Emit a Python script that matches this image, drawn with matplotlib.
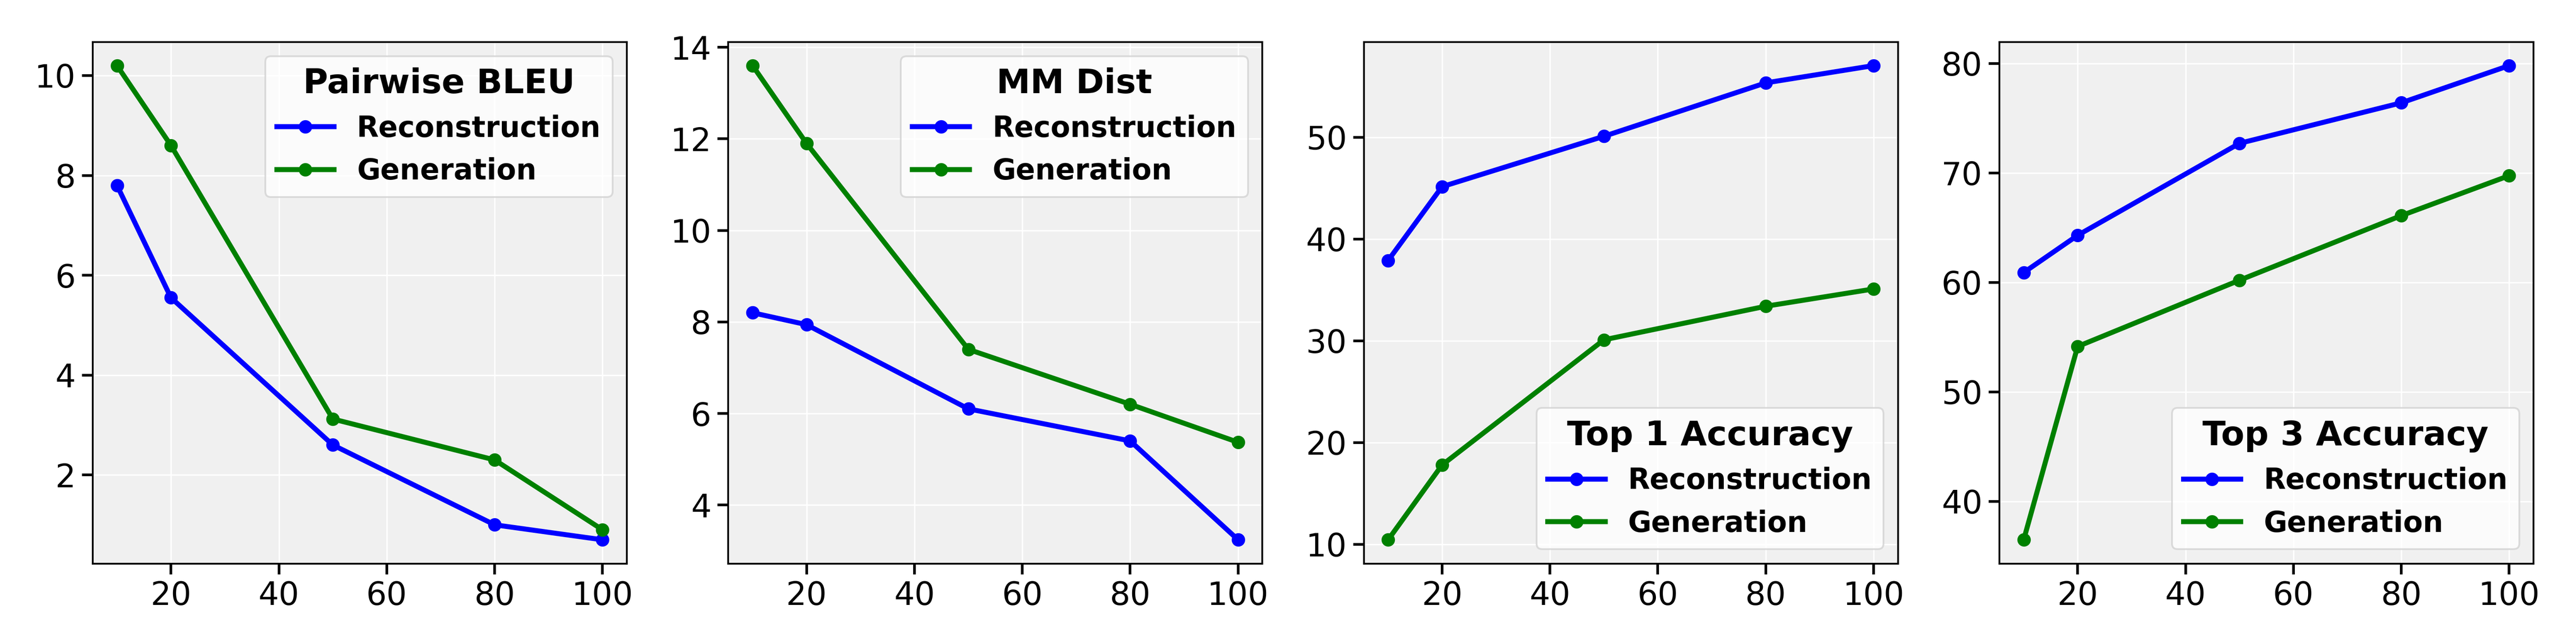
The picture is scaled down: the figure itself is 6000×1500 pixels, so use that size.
import numpy as np
import matplotlib
matplotlib.use('Agg')
import matplotlib.pyplot as plt

# 训练数据比例
x_ratio = [10, 20, 50, 80, 100]

bleu_recon = [7.8, 5.55, 2.6, 1.0, 0.7]
bleu_gen = [10.2, 8.6, 3.12, 2.3, 0.9]

mm_recon = [8.2, 7.94, 6.1, 5.4, 3.24]
mm_gen = [13.6, 11.9, 7.4, 6.2, 5.37]

top1_recon = [37.9, 45.15, 50.1, 55.35, 57.05]
top1_gen = [10.45, 17.8, 30.1, 33.4, 35.1]

top3_recon = [60.9, 64.3, 72.7, 76.4, 79.8]
top3_gen = [36.5, 54.15, 60.2, 66.1, 69.75]

metric_names = ['Pairwise BLEU', 'MM Dist', 'Top 1 Accuracy', 'Top 3 Accuracy']
legend_locs = ['upper right', 'upper right', 'lower right', 'lower right']
all_recon = [bleu_recon, mm_recon, top1_recon, top3_recon]
all_gen = [bleu_gen, mm_gen, top1_gen, top3_gen]

plt.rcParams['font.family'] = 'DejaVu Sans'

fig, axes = plt.subplots(1, 4, figsize=(20, 5), dpi=300)
fig.subplots_adjust(left=0.036, right=0.9835, bottom=0.125, top=0.935, wspace=0.19)

for ax, name, loc, recon, gen in zip(axes, metric_names, legend_locs, all_recon, all_gen):
    ax.set_facecolor('#f0f0f0')
    ax.grid(True, color='white', linewidth=0.8)
    ax.set_axisbelow(True)
    ax.plot(x_ratio, recon, 'o-', color='blue', linewidth=2.8, markersize=6.5, label='Reconstruction')
    ax.plot(x_ratio, gen, 'o-', color='green', linewidth=2.8, markersize=6.5, label='Generation')
    ax.set_xticks([20, 40, 60, 80, 100])
    ax.tick_params(axis='both', labelsize=18, length=6, width=1.5, direction='out')
    for spine in ax.spines.values():
        spine.set_color('black')
        spine.set_linewidth(1.0)
    leg = ax.legend(title=name, loc=loc, prop={'weight': 'bold', 'size': 16},
                    title_fontproperties={'weight': 'bold', 'size': 19},
                    edgecolor='#d3d3d3', facecolor='white', framealpha=0.8)

plt.savefig('out.png', dpi=300)
plt.close()
